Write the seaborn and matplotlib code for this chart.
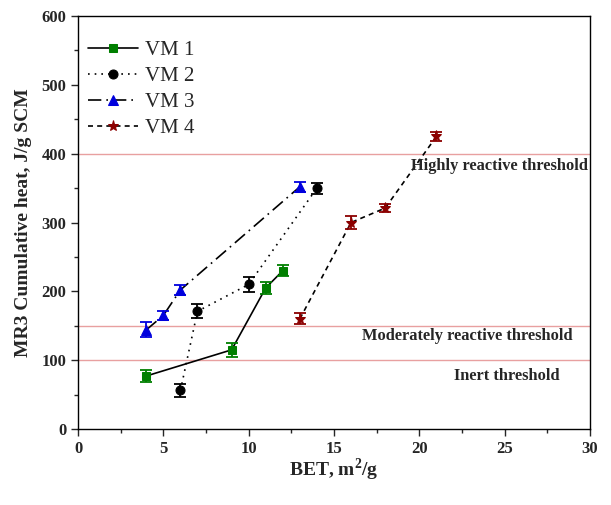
import matplotlib
matplotlib.use("Agg")
import matplotlib.pyplot as plt
import seaborn as sns
import numpy as np
from matplotlib.ticker import MultipleLocator

sns.set_style("ticks")
plt.rcParams['font.family'] = ['Liberation Serif', 'DejaVu Serif']
plt.rcParams['mathtext.fontset'] = 'custom'
plt.rcParams['mathtext.rm'] = 'Liberation Serif'
plt.rcParams['mathtext.bf'] = 'Liberation Serif:bold'

series_names = ["VM 1", "VM 2", "VM 3", "VM 4"]
vm1_x = [4, 9, 11, 12]
vm1_y = [77, 115, 205, 230]
vm1_err = [9, 10, 9, 8]
vm2_x = [6, 7, 10, 14]
vm2_y = [56, 171, 210, 350]
vm2_err = [10, 10, 11, 8]
vm3_x = [4, 5, 6, 13]
vm3_y = [144, 165, 202, 352]
vm3_err = [11, 7, 7, 7]
vm4_x = [13, 16, 18, 21]
vm4_y = [160, 300, 321, 425]
vm4_err = [8, 9, 6, 6]

thresholds = [400, 150, 100]
threshold_labels = ["Highly reactive threshold", "Moderately reactive threshold", "Inert threshold"]

fig = plt.figure(figsize=(6.11, 5.05), dpi=100)
ax = fig.add_axes([0.1277, 0.1505, 0.8379, 0.8178])

styles = [
    dict(color="#007f00", marker="s", ls="-", ms=6),
    dict(color="black", marker="o", ls=(0, (1, 3)), ms=6.5),
    dict(color="#0000dd", marker="^", ls=(0, (8, 3, 1, 3)), ms=7),
    dict(color="#8b0000", marker="*", ls=(0, (3, 2.5)), ms=8),
]
data = [(vm1_x, vm1_y, vm1_err), (vm2_x, vm2_y, vm2_err), (vm3_x, vm3_y, vm3_err), (vm4_x, vm4_y, vm4_err)]

for y0 in thresholds:
    ax.axhline(y0, color="#e8a0a0", lw=1.0, zorder=1)

for name, (xs, ys, es), st in zip(series_names, data, styles):
    sns.lineplot(x=xs, y=ys, ax=ax, color="black", lw=1.2, linestyle=st["ls"],
                 marker=st["marker"], markersize=st["ms"], markerfacecolor=st["color"],
                 markeredgecolor=st["color"], label=name, zorder=3)
    ax.errorbar(xs, ys, yerr=es, fmt="none", ecolor=st["color"], elinewidth=1.3,
                capsize=4, capthick=1.3, zorder=4)

ax.text(29.9, 382, threshold_labels[0], ha="right", va="center", fontsize=11.8, fontweight="bold")
ax.text(29.0, 135, threshold_labels[1], ha="right", va="center", fontsize=11.8, fontweight="bold")
ax.text(28.25, 77, threshold_labels[2], ha="right", va="center", fontsize=11.8, fontweight="bold")

ax.set_xlim(0, 30)
ax.set_ylim(0, 600)
ax.xaxis.set_major_locator(MultipleLocator(5))
ax.xaxis.set_minor_locator(MultipleLocator(2.5))
ax.yaxis.set_major_locator(MultipleLocator(100))
ax.yaxis.set_minor_locator(MultipleLocator(50))
ax.tick_params(axis="both", which="major", direction="out", length=5, width=1, labelsize=12)
ax.tick_params(axis="both", which="minor", direction="out", length=3, width=1)
for lab in ax.get_xticklabels() + ax.get_yticklabels():
    lab.set_fontweight("bold")
for sp in ax.spines.values():
    sp.set_visible(True)
    sp.set_linewidth(1.0)
    sp.set_color("black")

ax.set_xlabel(r"BET, m$^\mathbf{2}$/g", fontsize=14, fontweight="bold", labelpad=0)
ax.set_ylabel("MR3 Cumulative heat, J/g SCM", fontsize=14, fontweight="bold", labelpad=7)

leg = ax.legend(loc="upper left", bbox_to_anchor=(0.0, 0.965), frameon=False, fontsize=15,
                handlelength=2.4, handletextpad=0.3, labelspacing=0.3, borderaxespad=0.1)

fig.savefig("out.png", dpi=100)
